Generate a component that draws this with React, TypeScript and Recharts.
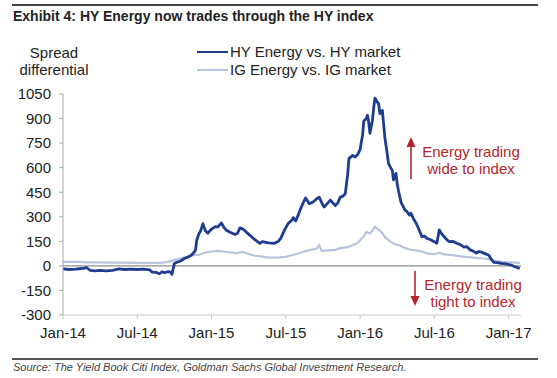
import { LineChart, Line, XAxis, YAxis, ReferenceLine } from "recharts";

// months since Jan-14
const hyMonths = [
  0, 0.5, 1, 1.5, 1.9, 2.2, 2.6, 3, 3.5, 4, 4.5, 5, 5.5, 6, 6.5, 7, 7.2, 7.5, 7.8, 8, 8.2, 8.5, 8.7, 8.8,
  9, 9.2, 9.5, 9.8, 10, 10.3, 10.5, 10.7, 10.8, 11, 11.1, 11.3, 11.5, 11.7, 12, 12.3, 12.5, 12.8, 13, 13.2,
  13.5, 13.9, 14.1, 14.3, 14.5, 14.7, 14.9, 15.2, 15.5, 15.9, 16.1, 16.3, 16.6, 17.1, 17.4, 17.6, 17.9,
  18.2, 18.5, 18.6, 18.8, 19, 19.2, 19.4, 19.6, 19.9, 20.2, 20.5, 20.7, 21, 21.1, 21.4, 21.6, 21.8, 22,
  22.2, 22.4, 22.6, 22.8, 23, 23.1, 23.4, 23.6, 23.8, 24, 24.2, 24.3, 24.5, 24.6, 24.7, 24.8, 25, 25.1,
  25.2, 25.4, 25.5, 25.6, 25.8, 26, 26.2, 26.3, 26.5, 26.6, 26.7, 26.9, 27, 27.1, 27.3, 27.6, 27.8, 28,
  28.1, 28.3, 28.6, 28.8, 29, 29.2, 29.4, 29.7, 30, 30.2, 30.4, 30.6, 30.8, 31, 31.2, 31.5, 31.8, 32.1,
  32.4, 32.6, 32.9, 33.1, 33.4, 33.6, 33.8, 34.1, 34.4, 34.6, 34.8, 35.1, 35.4, 35.8, 36.2, 36.5, 36.9,
];
const hyValues = [
  -18, -22, -20, -16, -10, -28, -30, -28, -30, -27, -18, -22, -20, -22, -20, -24, -38, -40, -48, -36, -42, -35, -38, -52,
  15, 22, 30, 45, 50, 62, 75, 95, 155, 200, 210, 258, 215, 200, 225, 240, 238, 262, 235, 218,
  205, 192, 200, 232, 226, 215, 200, 180, 160, 138, 148, 145, 140, 138, 150, 170, 220,
  260, 280, 295, 275, 310, 350, 385, 415, 380, 390, 410, 420, 370, 360, 385, 402, 385, 368,
  385, 420, 425, 440, 560, 655, 675, 665, 680, 710, 800, 885, 900, 920, 875, 810, 890, 965,
  1025, 1000, 990, 930, 950, 785, 680, 625, 595, 585, 525, 565, 500, 460, 390, 345, 330, 310,
  322, 290, 250, 215, 178, 182, 168, 160, 148, 138, 220, 195, 178, 160, 148, 150, 138, 130,
  115, 118, 98, 92, 78, 88, 84, 75, 65, 40, 22, 20, 15, 12, 5, -5, -15,
];

const igMonths = [
  0, 1, 2, 3, 4, 5, 6, 7, 8, 8.5, 9, 9.5, 10, 10.5, 11, 11.5, 12, 12.5, 13, 13.5, 14, 14.5, 14.9, 15.5,
  16, 16.5, 17, 17.5, 18, 18.5, 19, 19.5, 20, 20.5, 20.7, 20.9, 21.5, 22, 22.5, 23, 23.4, 23.8, 24, 24.3,
  24.5, 24.8, 25, 25.2, 25.5, 25.8, 26, 26.4, 26.9, 27.2, 27.6, 28, 28.5, 29, 29.4, 30, 30.4, 30.8, 31.5,
  32, 32.5, 33, 33.5, 34, 34.5, 35, 35.5, 36, 36.9,
];
const igValues = [
  24, 24, 22, 22, 20, 20, 18, 18, 20, 25, 35, 45, 55, 65, 68, 82, 88, 92, 88, 82, 78, 85, 75, 62,
  58, 52, 50, 52, 55, 65, 76, 88, 98, 106, 126, 92, 95, 98, 110, 115, 126, 140, 157, 180,
  207, 198, 215, 238, 222, 200, 177, 150, 130, 126, 110, 100, 95, 88, 76, 72, 80, 70, 65,
  60, 55, 52, 48, 45, 40, 30, 25, 22, 18,
];

const xTicks = [0, 6, 12, 18, 24, 30, 36];
const xTickLabels = ["Jan-14", "Jul-14", "Jan-15", "Jul-15", "Jan-16", "Jul-16", "Jan-17"];
const yTicks = [-300, -150, 0, 150, 300, 450, 600, 750, 900, 1050];

const hyData = hyMonths.map((m, i) => ({ m, v: hyValues[i] }));
const igData = igMonths.map((m, i) => ({ m, v: igValues[i] }));

const FONT = '"Liberation Sans", Arial, sans-serif';
const HY_COLOR = "#1f3d8f";
const IG_COLOR = "#b8c3dc";
const RED = "#b5262c";

export default function App() {
  return (
    <div
      style={{
        position: "absolute",
        left: 0,
        top: 0,
        width: 557,
        height: 378,
        background: "#fff",
        fontFamily: FONT,
        color: "#222",
      }}
    >
      {/* top rule + title */}
      <div style={{ position: "absolute", left: 12, top: 4, width: 526, height: 2, background: "#444" }} />
      <div style={{ position: "absolute", left: 13, top: 8, fontSize: 14, fontWeight: "bold", whiteSpace: "nowrap" }}>
        Exhibit 4: HY Energy now trades through the HY index
      </div>

      {/* axis caption */}
      <div
        style={{
          position: "absolute",
          left: 8,
          top: 44,
          width: 92,
          textAlign: "center",
          fontSize: 15,
          lineHeight: "17px",
        }}
      >
        Spread
        <br />
        differential
      </div>

      {/* legend */}
      <div style={{ position: "absolute", left: 197, top: 43, fontSize: 15, lineHeight: "18px", whiteSpace: "nowrap" }}>
        <div style={{ display: "flex", alignItems: "center" }}>
          <span style={{ display: "inline-block", width: 31, height: 2.5, background: HY_COLOR, marginRight: 2 }} />
          HY Energy vs. HY market
        </div>
        <div style={{ display: "flex", alignItems: "center" }}>
          <span style={{ display: "inline-block", width: 31, height: 2, background: IG_COLOR, marginRight: 2 }} />
          IG Energy vs. IG market
        </div>
      </div>

      <div style={{ position: "absolute", left: 0, top: 0 }}>
        <LineChart width={557} height={378} margin={{ top: 94, right: 36, bottom: 33, left: 8 }}>
          <XAxis
            dataKey="m"
            type="number"
            domain={[0, 37]}
            ticks={xTicks}
            tickFormatter={(v: number) => xTickLabels[xTicks.indexOf(v)]}
            allowDataOverflow
            height={30}
            stroke="#c8c8c8"
            tickSize={4}
            tickMargin={8}
            tick={{ fill: "#222", fontSize: 15, fontFamily: FONT }}
          />
          <YAxis
            type="number"
            domain={[-300, 1050]}
            ticks={yTicks}
            allowDataOverflow
            width={55}
            stroke="#a8a8a8"
            tickSize={4}
            tickMargin={8}
            tick={{ fill: "#222", fontSize: 15, fontFamily: FONT }}
          />
          <ReferenceLine y={0} stroke="#8c8c8c" strokeWidth={1.3} />
          <Line
            data={igData}
            dataKey="v"
            stroke={IG_COLOR}
            strokeWidth={2.2}
            dot={false}
            type="linear"
            isAnimationActive={false}
          />
          <Line
            data={hyData}
            dataKey="v"
            stroke={HY_COLOR}
            strokeWidth={2.8}
            dot={false}
            type="linear"
            strokeLinejoin="round"
            isAnimationActive={false}
          />
        </LineChart>
      </div>

      {/* annotations */}
      <svg width={557} height={378} style={{ position: "absolute", left: 0, top: 0, pointerEvents: "none" }}>
        <line x1={411} y1={179} x2={411} y2={146} stroke={RED} strokeWidth={1.6} />
        <polygon points="411,137 406.5,147 415.5,147" fill={RED} />
        <line x1={415} y1={271} x2={415} y2={297} stroke={RED} strokeWidth={1.6} />
        <polygon points="415,306 410.5,296 419.5,296" fill={RED} />
      </svg>
      <div
        style={{
          position: "absolute",
          left: 416,
          top: 143,
          width: 110,
          textAlign: "center",
          fontSize: 15,
          lineHeight: "17px",
          color: RED,
        }}
      >
        Energy trading
        <br />
        wide to index
      </div>
      <div
        style={{
          position: "absolute",
          left: 418,
          top: 276,
          width: 110,
          textAlign: "center",
          fontSize: 15,
          lineHeight: "17px",
          color: RED,
        }}
      >
        Energy trading
        <br />
        tight to index
      </div>

      {/* bottom rule + source */}
      <div style={{ position: "absolute", left: 12, top: 358, width: 526, height: 1.5, background: "#555" }} />
      <div
        style={{
          position: "absolute",
          left: 13,
          top: 361,
          fontSize: 11,
          fontStyle: "italic",
          color: "#444",
          whiteSpace: "nowrap",
        }}
      >
        Source: The Yield Book Citi Index, Goldman Sachs Global Investment Research.
      </div>
    </div>
  );
}
